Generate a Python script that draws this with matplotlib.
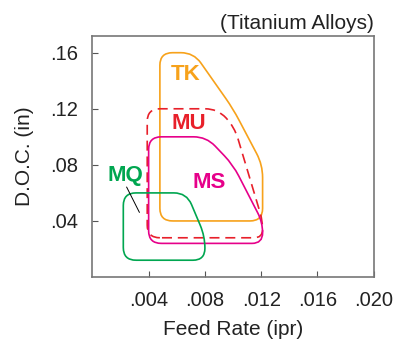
import matplotlib
matplotlib.use("Agg")
import matplotlib.pyplot as plt
from matplotlib.path import Path
from matplotlib.patches import PathPatch
import numpy as np

plt.rcParams['font.family'] = ['Liberation Sans', 'DejaVu Sans']

# Data: regions (feed rate ipr, depth of cut in)
tk_x = [0.0048, 0.0048, 0.0072, 0.0100, 0.0121, 0.0121]
tk_y = [0.040, 0.160, 0.160, 0.120, 0.080, 0.040]
mu_x = [0.0039, 0.0039, 0.0089, 0.0101, 0.0121, 0.0121]
mu_y = [0.028, 0.120, 0.120, 0.107, 0.040, 0.028]
ms_x = [0.0040, 0.0040, 0.0081, 0.0100, 0.0121, 0.0121]
ms_y = [0.024, 0.100, 0.100, 0.080, 0.039, 0.024]
mq_x = [0.0022, 0.0022, 0.0067, 0.0080, 0.0080]
mq_y = [0.012, 0.060, 0.060, 0.029, 0.012]

labels = ["TK", "MU", "MS", "MQ"]
label_x = [0.00664, 0.00686, 0.00832, 0.00236]
label_y = [0.1443, 0.1093, 0.0671, 0.0721]

xticks = [0.004, 0.008, 0.012, 0.016, 0.020]
xticklabels = [".004", ".008", ".012", ".016", ".020"]
yticks = [0.04, 0.08, 0.12, 0.16]
yticklabels = [".04", ".08", ".12", ".16"]

c_tk = "#F7A21B"
c_mu = "#E8202A"
c_ms = "#E6008A"
c_mq = "#00A650"

fig = plt.figure(figsize=(3.93, 3.45), dpi=100)
ax = fig.add_axes([0.235, 0.197, 0.716, 0.699])
ax.set_xlim(0, 0.020)
ax.set_ylim(0, 0.172)


def rounded_path(xs, ys, r):
    # normalize so x*1000 and y*100 have equal pixel scale
    pts = np.column_stack([np.array(xs) * 1000.0, np.array(ys) * 100.0])
    n = len(pts)
    verts, codes = [], []
    for i in range(n):
        p = pts[i]
        a = pts[i - 1]
        b = pts[(i + 1) % n]
        da = a - p
        db = b - p
        la = np.hypot(*da)
        lb = np.hypot(*db)
        rr = min(r, la / 2.0, lb / 2.0)
        p1 = p + da / la * rr
        p2 = p + db / lb * rr
        if i == 0:
            verts.append(p1); codes.append(Path.MOVETO)
        else:
            verts.append(p1); codes.append(Path.LINETO)
        verts.append(p); codes.append(Path.CURVE3)
        verts.append(p2); codes.append(Path.CURVE3)
    verts.append(verts[0]); codes.append(Path.LINETO)
    v = np.array(verts)
    v[:, 0] /= 1000.0
    v[:, 1] /= 100.0
    return Path(v, codes)


shapes = [
    (tk_x, tk_y, c_tk, '-'),
    (mu_x, mu_y, c_mu, (0, (6, 3.5))),
    (ms_x, ms_y, c_ms, '-'),
    (mq_x, mq_y, c_mq, '-'),
]
for xs, ys, col, ls in shapes:
    patch = PathPatch(rounded_path(xs, ys, 0.9), facecolor='none', edgecolor=col,
                      linewidth=1.2, linestyle=ls)
    ax.add_patch(patch)

for lab, lx, ly, col in zip(labels, label_x, label_y, [c_tk, c_mu, c_ms, c_mq]):
    ax.text(lx, ly, lab, color=col, fontsize=16, fontweight='bold',
            ha='center', va='center')

# MQ leader line
ax.plot([0.00244, 0.00334], [0.0641, 0.0462], color='black', linewidth=0.7)

ax.set_xticks(xticks)
ax.set_xticklabels(xticklabels)
ax.set_yticks(yticks)
ax.set_yticklabels(yticklabels)
ax.tick_params(direction='in', length=4, width=0.8, labelsize=14.5, colors='#555555',
               labelcolor='#222222')
ax.tick_params(axis='x', pad=10)
ax.tick_params(axis='y', pad=10)
for s in ax.spines.values():
    s.set_color('#777777')
    s.set_linewidth(1.2)

ax.set_xlabel("Feed Rate (ipr)", fontsize=15, color='#222222', labelpad=7)
ax.set_ylabel("D.O.C. (in)", fontsize=15, color='#222222', labelpad=12)
ax.set_title("(Titanium Alloys)", fontsize=15, color='#222222', loc='right', pad=5)

fig.savefig("out.png", dpi=100)
